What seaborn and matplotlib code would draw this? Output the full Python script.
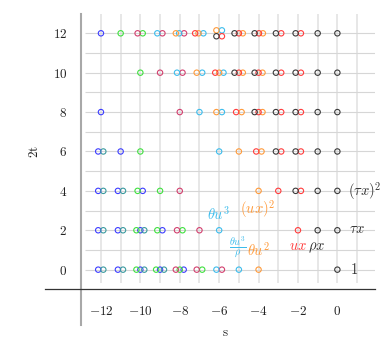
import matplotlib
matplotlib.use("Agg")
import matplotlib.pyplot as plt
import seaborn as sns
import pandas as pd
from matplotlib.ticker import FixedLocator, FuncFormatter

# ---- data (s, 2t) per series ----
blue_s = [-12, -12, -12.14, -11, -12.14, -11.14, -9.88, -12.14, -11.14, -10.0, -8.88,
          -12.14, -11.14, -10.0, -9.0, -7.8]
blue_t = [12, 8, 6, 6, 4, 4, 4, 2, 2, 2, 2, 0, 0, 0, 0, 0]

teal_s = [-11.88, -11.88, -10.88, -11.88, -10.88, -9.8, -11.88, -10.88, -9.8, -8.8]
teal_t = [6, 4, 4, 2, 2, 2, 0, 0, 0, 0]

green_s = [-11, -9.88, -10, -10, -10.14, -9, -10.2, -9.14, -7.86, -10.2, -9.2, -8.0, -6.86]
green_t = [12, 12, 10, 6, 4, 4, 2, 2, 2, 0, 0, 0, 0]

crimson_s = [-10.14, -8.88, -7.78, -9, -7.86, -8, -8, -8.14, -7, -8.2, -7.14, -5.86]
crimson_t = [12, 12, 12, 10, 10, 8, 4, 2, 2, 0, 0, 0]

lightblue_s = [-9.14, -8.03, -6.8, -5.86, -8.14, -6.86, -5.78, -7, -5.86, -6, -6, -6.14, -5]
lightblue_t = [12, 12, 12, 12.15, 10, 10, 10, 8, 8, 6, 2, 0, 0]

orange_s = [-8.2, -7.05, -6.14, -4.8, -3.78, -7.14, -6.0, -4.8, -3.8, -6.14, -4.86, -3.8,
            -5, -3.85, -4, -4]
orange_t = [12, 12, 12.15, 12, 12, 10, 10, 10, 10, 8, 8, 8, 6, 6, 4, 0]

red_s = [-7.22, -5.86, -5, -3.98, -2.85, -1.85, -6.2, -5, -4, -2.85, -1.85,
         -5.14, -4, -2.85, -1.85, -4.12, -2.85, -1.85, -3, -1.85, -2]
red_t = [12, 11.85, 12, 12, 12, 12, 10, 10, 10, 10, 10, 8, 8, 8, 8, 6, 6, 6, 4, 4, 2]

black_s = [-6.14, -5.22, -4.2, -3.12, -2.12, -1, 0,
           -5.22, -4.2, -3.12, -2.12, -1, 0,
           -4.2, -3.12, -2.12, -1, 0,
           -3.12, -2.12, -1, 0,
           -2.12, -1, 0,
           -1, 0,
           0]
black_t = [11.85, 12, 12, 12, 12, 12, 12,
           10, 10, 10, 10, 10, 10,
           8, 8, 8, 8, 8,
           6, 6, 6, 6,
           4, 4, 4,
           2, 2,
           0]

x_ticks = [-12, -10, -8, -6, -4, -2, 0]
y_ticks = [0, 2, 4, 6, 8, 10, 12]

palette = {
    "blue": "#3c3cff",
    "teal": "#3a9a9e",
    "green": "#3fe03f",
    "crimson": "#d23f6e",
    "lightblue": "#3cbcec",
    "orange": "#ff9a3a",
    "red": "#ff3c3c",
    "black": "#3a3a3a",
}

series = [("blue", blue_s, blue_t), ("teal", teal_s, teal_t), ("green", green_s, green_t),
          ("crimson", crimson_s, crimson_t), ("lightblue", lightblue_s, lightblue_t),
          ("orange", orange_s, orange_t), ("red", red_s, red_t), ("black", black_s, black_t)]
df = pd.concat([pd.DataFrame({"s": s, "t2": t, "series": n}) for n, s, t in series],
               ignore_index=True)

sns.set_theme(style="white")
plt.rcParams["mathtext.fontset"] = "cm"
plt.rcParams["font.family"] = ["DejaVu Serif"]

fig = plt.figure(figsize=(3.88, 3.46), dpi=100)
ax = fig.add_axes([45 / 388, 21 / 346, 330 / 388, 311 / 346])
ax.set_xlim(-14.84, 1.91)
ax.set_ylim(-2.81, 12.98)

# grid
ax.vlines(range(-12, 2), -0.68, 12.98, color="#e3e3e3", lw=1.2, zorder=0)
ax.hlines(range(0, 13), -12.8, 1.91, color="#d6d6d6", lw=0.8, zorder=0)

sns.scatterplot(data=df, x="s", y="t2", hue="series", palette=palette, s=15,
                linewidth=0.8, legend=False, ax=ax, zorder=3)
for coll in ax.collections:
    fc = coll.get_facecolors()
    if len(fc) == len(df):
        coll.set_edgecolors(fc)
        coll.set_facecolors("none")

for side in ("top", "right"):
    ax.spines[side].set_visible(False)
ax.spines["left"].set_position(("data", -13))
ax.spines["left"].set_color("#a8a8a8")
ax.spines["left"].set_linewidth(1.5)
ax.spines["bottom"].set_position(("data", -1))
ax.spines["bottom"].set_color("#333333")
ax.spines["bottom"].set_linewidth(0.9)

ax.xaxis.set_major_locator(FixedLocator(x_ticks))
ax.yaxis.set_major_locator(FixedLocator(y_ticks))
fmt = FuncFormatter(lambda v, p: f"${int(v)}$")
ax.xaxis.set_major_formatter(fmt)
ax.yaxis.set_major_formatter(fmt)
ax.tick_params(axis="both", length=0, labelsize=9.5, colors="#222222")
ax.tick_params(axis="x", pad=11)
ax.tick_params(axis="y", pad=10)

ax.set_xlabel(r"$\mathrm{s}$", fontsize=9.5, color="#222222")
ax.set_ylabel(r"$\mathrm{2t}$", fontsize=9.5, color="#222222")
ax.xaxis.label.set_va("center")
ax.xaxis.set_label_coords((225 - 45) / 330, -8 / 311)
ax.yaxis.label.set_va("center")
ax.yaxis.set_label_coords((35 - 45) / 330, 1 - (152 - 14) / 311)

fs = 10.5
ax.text(0.54, 3.74, r"$(\tau x)^2$", color="#333333", fontsize=fs, va="baseline", ha="left")
ax.text(0.6, 1.85, r"$\tau x$", color="#333333", fontsize=fs, va="baseline", ha="left")
ax.text(0.65, -0.22, r"$1$", color="#333333", fontsize=fs, va="baseline", ha="left")
ax.text(-6.04, 2.56, r"$\theta u^3$", color=palette["lightblue"], fontsize=fs, va="baseline", ha="center")
ax.text(-4.03, 2.83, r"$(ux)^2$", color=palette["orange"], fontsize=fs, va="baseline", ha="center")
ax.text(-5.04, 1.15, r"$\frac{\theta u^3}{\rho}$", color=palette["lightblue"], fontsize=fs, va="center", ha="center")
ax.text(-4.03, 0.7, r"$\theta u^2$", color=palette["orange"], fontsize=fs, va="baseline", ha="center")
ax.text(-2.02, 1.0, r"$ux$", color=palette["red"], fontsize=fs, va="baseline", ha="center")
ax.text(-1.04, 1.0, r"$\rho x$", color="#333333", fontsize=fs, va="baseline", ha="center")

fig.savefig("out.png", dpi=100)
